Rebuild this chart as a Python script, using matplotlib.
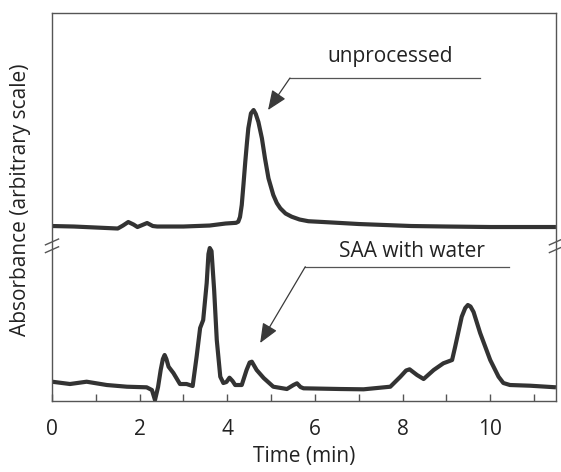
import numpy as np
import matplotlib
matplotlib.use("Agg")
from matplotlib import pyplot as plt

# two chromatograms drawn on one axis, the upper one lifted by an offset
# (y values are in an arbitrary absorbance scale)

# upper trace: unprocessed
t_unproc = [0.0, 0.5, 1.0, 1.5, 1.62, 1.74, 1.86, 1.95, 2.06, 2.17, 2.3, 2.4,
            3.0, 3.6, 3.96, 4.2, 4.25, 4.29, 4.33, 4.37, 4.41, 4.45, 4.48,
            4.54, 4.6, 4.65, 4.71, 4.79, 4.86, 4.94, 5.05, 5.13, 5.21, 5.33,
            5.47, 5.65, 5.85, 6.19, 6.6, 7.0, 7.6, 8.2, 9.0, 10.0, 11.0, 11.5]
a_unproc = [1, 0.5, -0.5, -1.5, 1.5, 5, 2.5, 0, 2, 4, 1, 0.5,
            0.5, 1.5, 3.5, 4.2, 5.3, 10, 22, 43, 65, 85, 98.7,
            113.7, 117, 113, 105, 88.7, 68.7, 48.7, 32, 24, 18.7, 13.5,
            10.3, 7.5, 5.8, 5, 4, 3, 2, 1, 0.5, 0, 0, 0]

# lower trace: SAA with water
t_saa = [0.0, 0.41, 0.79, 1.25, 1.71, 2.16, 2.28, 2.35, 2.42, 2.48, 2.53,
         2.57, 2.61, 2.66, 2.77, 2.92, 3.07, 3.21, 3.3, 3.38, 3.45, 3.53,
         3.57, 3.6, 3.64, 3.7, 3.76, 3.84, 3.91, 3.98, 4.05, 4.12, 4.18,
         4.33, 4.44, 4.51, 4.56, 4.67, 4.83, 5.05, 5.36, 5.51, 5.59, 5.67,
         5.74, 6.58, 7.11, 7.72, 7.95, 8.08, 8.16, 8.33, 8.48, 8.71, 8.93,
         9.13, 9.2, 9.35, 9.43, 9.49, 9.55, 9.62, 9.77, 10.0, 10.19, 10.3,
         10.45, 10.91, 11.5]
a_saa = [19.3, 17, 19.3, 16, 14.3, 13.7, 11, 1, 14, 31, 42,
         46, 42, 34.3, 28, 17, 17, 15, 44.3, 73, 81, 118,
         147, 153, 150, 111, 61, 24.3, 18, 19, 23.3, 20, 16,
         16, 31, 38.5, 39.3, 31, 23, 14.3, 12, 16, 17.7, 14,
         12.7, 12, 11.7, 14.3, 24.3, 30.5, 31.7, 26, 22, 31, 37.7,
         41, 54.3, 84.3, 93, 96, 94.5, 89, 68, 41, 24.3, 18,
         16, 15.3, 13.7]

upper_offset = 174
x_ticks = [0, 2, 4, 6, 8, 10]

plt.rcParams['font.family'] = ['Open Sans', 'DejaVu Sans']
line_col = '#333333'
frame_col = '#555555'
text_col = '#222222'
fs = 15

fig = plt.figure(figsize=(5.61, 4.72), dpi=100)
ax = fig.add_axes([0.0927, 0.1504, 0.8983, 0.822])

ax.plot(t_unproc, np.array(a_unproc) + upper_offset, color=line_col, lw=3.0,
        solid_joinstyle='round', solid_capstyle='butt')
ax.plot(t_saa, a_saa, color=line_col, lw=3.0,
        solid_joinstyle='round', solid_capstyle='butt')

ax.set_xlim(0, 11.5)
ax.set_ylim(0, 388)

for s in ax.spines.values():
    s.set_color(frame_col)
    s.set_linewidth(1.0)

ax.set_xticks(x_ticks)
ax.set_xticks(np.arange(1, 12, 2), minor=True)
ax.tick_params(axis='x', which='both', direction='in', length=5, width=1,
               color=frame_col, labelsize=fs, pad=13, labelcolor=text_col)
ax.set_yticks([])

ax.set_xlabel('Time (min)', fontsize=fs, color=text_col, labelpad=4)
ax.set_ylabel('Absorbance (arbitrary scale)', fontsize=fs, color=text_col)
ax.yaxis.set_label_coords(-0.042, 0.52)

# axis break marks on both sides
for xa in (0.0, 1.0):
    for yc in (0.41, 0.39):
        ax.plot([xa - 0.013, xa + 0.013], [yc - 0.0075, yc + 0.0075],
                transform=ax.transAxes, color=frame_col, lw=1.0, clip_on=False)

# callouts
arrow_kw = dict(arrowstyle='-|>,head_length=1.2,head_width=0.5',
                color='#3a3a3a', lw=0.9, shrinkA=0, shrinkB=0)
ax.annotate('', xy=(4.93, 291), xytext=(5.43, 323), arrowprops=arrow_kw)
ax.plot([5.43, 9.77], [323, 323], color=frame_col, lw=0.9)
ax.text(7.72, 345, 'unprocessed', fontsize=fs, ha='center', va='center',
        color=text_col)

ax.annotate('', xy=(4.75, 58), xytext=(5.78, 134.3), arrowprops=arrow_kw)
ax.plot([5.78, 10.43], [134.3, 134.3], color=frame_col, lw=0.9)
ax.text(8.21, 150, 'SAA with water', fontsize=fs, ha='center', va='center',
        color=text_col)

plt.savefig('out.png', dpi=100)
